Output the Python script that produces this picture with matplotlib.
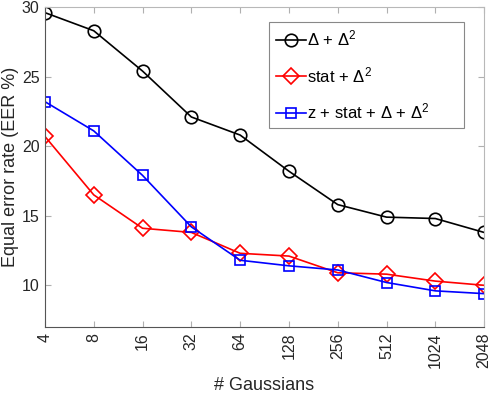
import numpy as np
import matplotlib
matplotlib.use("Agg")
import matplotlib.pyplot as plt

plt.rcParams["font.family"] = ["Liberation Sans", "DejaVu Sans"]
plt.rcParams["mathtext.fontset"] = "custom"
plt.rcParams["mathtext.rm"] = "Liberation Sans"
plt.rcParams["mathtext.it"] = "Liberation Sans"

# ========================
# Datos
# ========================
gaussianas = ["4", "8", "16", "32", "64", "128", "256", "512", "1024", "2048"]
delta = [29.6, 28.3, 25.4, 22.1, 20.8, 18.2, 15.8, 14.9, 14.8, 13.8]
stat = [20.7, 16.5, 14.1, 13.8, 12.3, 12.1, 10.9, 10.8, 10.3, 10.0]
z_stat = [23.2, 21.1, 17.9, 14.2, 11.8, 11.4, 11.1, 10.2, 9.6, 9.4]

etiquetas = [r"$\Delta$ + $\Delta^2$",
             r"stat + $\Delta^2$",
             r"z + stat + $\Delta$ + $\Delta^2$"]

# ========================
# Figura
# ========================
fig = plt.figure(figsize=(4.94, 3.94), dpi=100)
ax = fig.add_axes([0.091, 0.170, 0.889, 0.812])

x = np.arange(len(gaussianas))
estilo = dict(linewidth=1.2, markerfacecolor="none", markeredgewidth=1.2)
ax.plot(x, delta, "k-o", label=etiquetas[0], markersize=9, **estilo)
ax.plot(x, stat, "-D", color="red", label=etiquetas[1], markersize=8, **estilo)
ax.plot(x, z_stat, "-s", color="blue", label=etiquetas[2], markersize=7.5, **estilo)

ax.set_xlim(0, len(gaussianas) - 1)
ax.set_ylim(7, 30)
ax.set_xticks(x)
ax.set_xticklabels(gaussianas, rotation=90)
ax.set_yticks([10, 15, 20, 25, 30])

ax.tick_params(direction="in", length=4, color="#b0b0b0", labelcolor="#262626",
               labelsize=11.5, top=True, right=True, pad=4)
for lado in ["left", "bottom"]:
    ax.spines[lado].set_color("#555555")
for lado in ["top", "right"]:
    ax.spines[lado].set_color("#b8b8b8")

ax.set_xlabel("# Gaussians", fontsize=13, color="#262626", labelpad=6)
ax.set_ylabel("Equal error rate (EER %)", fontsize=13, color="#262626", labelpad=2)

# la leyenda ocupa un ancho fijo como en el original
leg = ax.legend(loc="upper left", bbox_to_anchor=(0.510, 0.0, 0.444, 0.953),
                mode="expand", borderaxespad=0, fontsize=12, fancybox=False,
                framealpha=1, edgecolor="#888888", handlelength=1.8,
                handletextpad=0.1, borderpad=0.4, labelspacing=1.0)
leg.get_frame().set_linewidth(0.8)

fig.savefig("out.png", dpi=100)
